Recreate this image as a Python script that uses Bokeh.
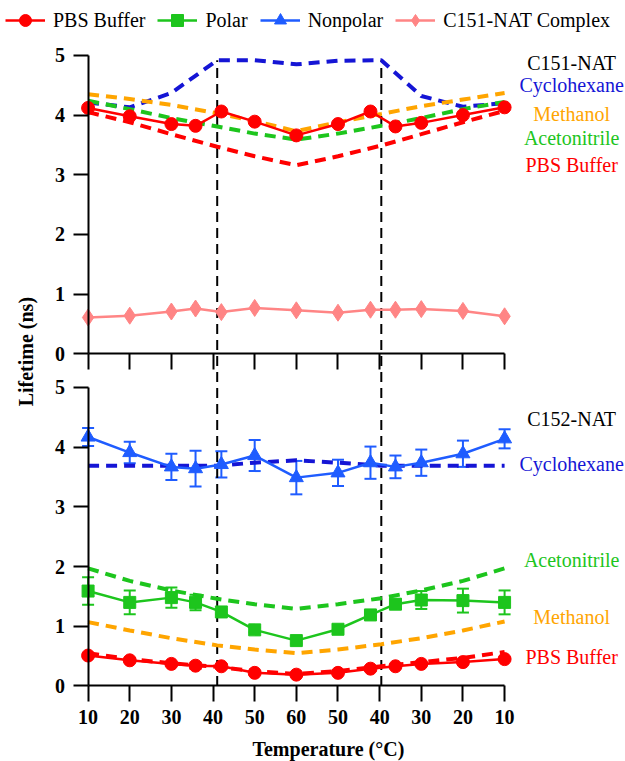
import math

from bokeh.plotting import figure
from bokeh.models import (Range1d, LinearAxis, FixedTicker, ColumnDataSource,
                          Whisker, TeeHead, Legend, LegendItem)
from bokeh.embed import file_html
from bokeh.resources import INLINE
from bokeh.core.properties import value

# ---------------------------------------------------------------------------
# Temperature cycle along the shared x axis (heating 10->60, cooling 60->10)
temp_labels = ["10", "20", "30", "40", "50", "60", "50", "40", "30", "20", "10"]
tick_pos = list(range(11))

# x positions (tick units) of measured points and of the model curves
meas_x = [0, 1, 2, 2.58, 3.2, 4, 5, 6, 6.78, 7.38, 8, 9, 10]
model_x = [0, 1, 2, 3.1, 4, 5, 6, 7.04, 8, 9, 10]
phase_x = [3.1, 7.04]

# ---- C151-NAT panel (top) -------------------------------------------------
c151_pbs = [4.12, 3.98, 3.85, 3.82, 4.06, 3.89, 3.66, 3.85, 4.06, 3.81, 3.87, 4.00, 4.13]
c151_complex = [0.61, 0.64, 0.71, 0.76, 0.70, 0.77, 0.73, 0.69, 0.74, 0.74, 0.75, 0.72, 0.63]
c151_fit_cyclohexane = [4.21, 4.13, 4.37, 4.92, 4.92, 4.85, 4.91, 4.92, 4.32, 4.14, 4.20]
c151_fit_methanol = [4.35, 4.27, 4.17, 4.03, 3.90, 3.73, 3.88, 4.02, 4.15, 4.26, 4.37]
c151_fit_acetonitrile = [4.24, 4.10, 3.95, 3.81, 3.69, 3.59, 3.69, 3.82, 3.95, 4.10, 4.22]
c151_fit_pbs = [4.05, 3.88, 3.68, 3.47, 3.31, 3.16, 3.31, 3.49, 3.68, 3.88, 4.07]

# ---- C152-NAT panel (bottom) ----------------------------------------------
c152_nonpolar = [4.17, 3.91, 3.67, 3.64, 3.71, 3.86, 3.49, 3.57, 3.74, 3.67, 3.74, 3.89, 4.14]
c152_nonpolar_err = [0.15, 0.18, 0.22, 0.30, 0.22, 0.26, 0.28, 0.22, 0.27, 0.19, 0.22, 0.22, 0.16]
c152_polar = [1.59, 1.40, 1.48, 1.40, 1.24, 0.94, 0.76, 0.95, 1.19, 1.37, 1.44, 1.43, 1.40]
c152_polar_err = [0.23, 0.20, 0.17, 0.13, 0.04, 0.04, 0.05, 0.04, 0.04, 0.08, 0.15, 0.20, 0.20]
c152_pbs = [0.51, 0.43, 0.37, 0.34, 0.33, 0.22, 0.19, 0.22, 0.29, 0.33, 0.37, 0.40, 0.45]
c152_pbs_err = [0.03, 0.03, 0.03, 0.05, 0.04, 0.03, 0.02, 0.03, 0.04, 0.03, 0.03, 0.03, 0.03]
c152_fit_cyclohexane = [3.69, 3.69, 3.69, 3.69, 3.74, 3.78, 3.74, 3.69, 3.69, 3.69, 3.69]
c152_fit_acetonitrile = [1.97, 1.76, 1.60, 1.46, 1.37, 1.29, 1.37, 1.47, 1.60, 1.76, 1.97]
c152_fit_methanol = [1.07, 0.93, 0.80, 0.68, 0.61, 0.55, 0.61, 0.70, 0.80, 0.93, 1.08]
c152_fit_pbs = [0.55, 0.45, 0.38, 0.32, 0.25, 0.20, 0.25, 0.33, 0.40, 0.47, 0.57]

# Solvent labels at the right of each panel
top_labels = ["C151-NAT", "Cyclohexane", "Methanol", "Acetonitrile", "PBS Buffer"]
top_label_y = [4.88, 4.51, 4.01, 3.61, 3.17]
bottom_labels = ["C152-NAT", "Cyclohexane", "Acetonitrile", "Methanol", "PBS Buffer"]
bottom_label_y = [4.48, 3.71, 2.11, 1.16, 0.48]

# ---------------------------------------------------------------------------
SERIF = "Liberation Serif"
TOP = 5.5625          # vertical offset of the upper panel in the shared frame
LABEL_X = 11.61

RED = "#FF0000"
GREEN = "#1DC51D"
BLUE = "#1F5CFF"
DARK_BLUE = "#1515D5"
ORANGE = "#FFA500"
PINK = "#FF8585"

p = figure(width=625, height=761, output_backend="svg", toolbar_location=None,
           x_range=Range1d(-2.103, 12.903), y_range=Range1d(-1.265, 11.482),
           x_axis_location=None, y_axis_location=None, title=None)
p.min_border = 0
p.min_border_left = 0
p.min_border_right = 0
p.min_border_top = 0
p.min_border_bottom = 0
p.outline_line_color = None
p.grid.visible = False


def style_axis(ax, tick_out):
    ax.axis_line_color = "black"
    ax.axis_line_width = 2
    ax.major_tick_line_color = "black"
    ax.major_tick_line_width = 2
    ax.major_tick_out = tick_out
    ax.major_tick_in = 0
    ax.minor_tick_line_color = None
    ax.major_label_text_font = SERIF
    ax.major_label_text_font_style = "bold"
    ax.major_label_text_font_size = "20px"
    ax.major_label_text_color = "black"


# shared temperature axis (bottom of the lower panel)
x_bottom = LinearAxis(fixed_location=0, bounds=(0, 10), ticker=FixedTicker(ticks=tick_pos),
                      major_label_overrides={t: lab for t, lab in zip(tick_pos, temp_labels)})
style_axis(x_bottom, 16)
x_bottom.major_label_standoff = 8
p.add_layout(x_bottom, "below")

# unlabelled temperature axis under the upper panel
x_top = LinearAxis(fixed_location=TOP, bounds=(0, 10), ticker=FixedTicker(ticks=tick_pos))
style_axis(x_top, 16)
x_top.major_label_text_color = None
p.add_layout(x_top, "below")

# lifetime axes (one per panel)
low_ticks = [0, 1, 2, 3, 4, 5]
y_low = LinearAxis(fixed_location=0, bounds=(0, 5), ticker=FixedTicker(ticks=low_ticks))
style_axis(y_low, 15)
y_low.major_label_standoff = 8
p.add_layout(y_low, "left")

up_ticks = [TOP + v for v in low_ticks]
y_up = LinearAxis(fixed_location=0, bounds=(TOP, TOP + 5), ticker=FixedTicker(ticks=up_ticks),
                  major_label_overrides={t: str(v) for t, v in zip(up_ticks, low_ticks)})
style_axis(y_up, 15)
y_up.major_label_standoff = 8
p.add_layout(y_up, "left")

# phase boundaries
p.segment(x0=phase_x, y0=[0, 0], x1=phase_x, y1=[TOP + 4.92, TOP + 4.92],
          line_color="black", line_width=2, line_dash="10 6")

DASH = dict(line_width=4, line_dash="11 7")


def shift(vals):
    return [v + TOP for v in vals]


# model curves, upper panel
p.line(model_x, shift(c151_fit_cyclohexane), line_color=DARK_BLUE, **DASH)
p.line(model_x, shift(c151_fit_methanol), line_color=ORANGE, **DASH)
p.line(model_x, shift(c151_fit_acetonitrile), line_color=GREEN, **DASH)
p.line(model_x, shift(c151_fit_pbs), line_color=RED, **DASH)

# model curves, lower panel
p.line(model_x, c152_fit_cyclohexane, line_color=DARK_BLUE, **DASH)
p.line(model_x, c152_fit_acetonitrile, line_color=GREEN, **DASH)
p.line(model_x, c152_fit_methanol, line_color=ORANGE, **DASH)
p.line(model_x, c152_fit_pbs, line_color=RED, **DASH)


def error_bars(y, err, color):
    src = ColumnDataSource(dict(x=meas_x,
                                lower=[a - e for a, e in zip(y, err)],
                                upper=[a + e for a, e in zip(y, err)]))
    w = Whisker(source=src, base="x", lower="lower", upper="upper",
                line_color=color, line_width=2,
                lower_head=TeeHead(size=12, line_color=color, line_width=2),
                upper_head=TeeHead(size=12, line_color=color, line_width=2))
    p.add_layout(w)


error_bars(c152_nonpolar, c152_nonpolar_err, BLUE)
error_bars(c152_polar, c152_polar_err, GREEN)
error_bars(c152_pbs, c152_pbs_err, RED)

# measured series
l_complex = p.line(meas_x, shift(c151_complex), line_color=PINK, line_width=2.5)
s_complex = p.scatter(meas_x, shift(c151_complex), marker="diamond", size=17, color=PINK)
l_pbs = p.line(meas_x, shift(c151_pbs), line_color=RED, line_width=2.5)
s_pbs = p.scatter(meas_x, shift(c151_pbs), marker="circle", size=13, color=RED)

l_nonpolar = p.line(meas_x, c152_nonpolar, line_color=BLUE, line_width=2.5)
s_nonpolar = p.scatter(meas_x, c152_nonpolar, marker="triangle", size=14, color=BLUE)
l_polar = p.line(meas_x, c152_polar, line_color=GREEN, line_width=2.5)
s_polar = p.scatter(meas_x, c152_polar, marker="square", size=12, color=GREEN)
p.line(meas_x, c152_pbs, line_color=RED, line_width=2.5)
p.scatter(meas_x, c152_pbs, marker="circle", size=13, color=RED)

# solvent labels
TEXT = dict(text_font=value(SERIF), text_font_size="20px",
            text_align="center", text_baseline="middle")
top_colors = ["black", DARK_BLUE, ORANGE, GREEN, RED]
bottom_colors = ["black", DARK_BLUE, GREEN, ORANGE, RED]
p.text(x=[LABEL_X] * 5, y=shift(top_label_y), text=top_labels, text_color=top_colors, **TEXT)
p.text(x=[LABEL_X] * 5, y=bottom_label_y, text=bottom_labels, text_color=bottom_colors, **TEXT)

# axis titles
p.text(x=[5.77], y=[-1.06], text=["Temperature (\u00b0C)"], text_color="black",
       text_font_style="bold", **TEXT)
p.text(x=[-1.5], y=[5.6], text=["Lifetime (ns)"], text_color="black", angle=math.pi / 2,
       text_font_style="bold", **TEXT)

legend = Legend(items=[
    LegendItem(label="PBS Buffer", renderers=[l_pbs, s_pbs]),
    LegendItem(label="Polar", renderers=[l_polar, s_polar]),
    LegendItem(label="Nonpolar", renderers=[l_nonpolar, s_nonpolar]),
    LegendItem(label="C151-NAT Complex", renderers=[l_complex, s_complex]),
], location="top_left", orientation="horizontal")
legend.margin = 5
legend.padding = 8
legend.spacing = 12
legend.glyph_width = 40
legend.glyph_height = 30
legend.label_standoff = 8
legend.label_text_font = SERIF
legend.label_text_font_size = "20px"
legend.label_text_color = "black"
legend.border_line_color = None
legend.background_fill_alpha = 0
p.add_layout(legend)

open("out.html", "w").write(file_html(p, INLINE))
